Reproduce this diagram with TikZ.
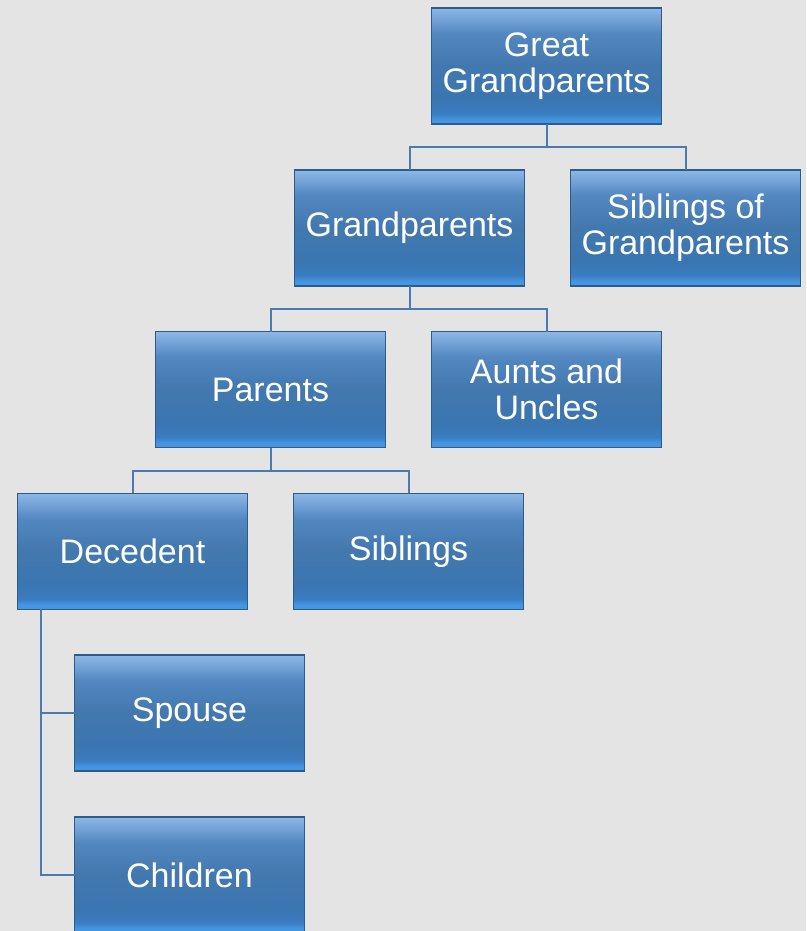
\documentclass[tikz,border=0pt]{standalone}
\usepackage{fontspec}
\setmainfont{Liberation Sans}
\usepackage{tikz}
\usetikzlibrary{positioning, calc}

\definecolor{bgGray}{HTML}{E4E4E4}
\definecolor{boxEdge}{HTML}{2B5C8A}
\definecolor{linkBlue}{HTML}{4A7AB0}
\definecolor{shA}{HTML}{4496E2}
\definecolor{shB}{HTML}{3A7DC2}
\definecolor{shC}{HTML}{3A76B2}
\definecolor{shD}{HTML}{4278AE}
\definecolor{shE}{HTML}{5287C0}
\definecolor{shF}{HTML}{78A6DA}
\definecolor{shG}{HTML}{8DB8E6}

\pgfdeclareverticalshading{boxshade}{100bp}{color(0bp)=(shA); color(25bp)=(shA); color(27bp)=(shA); color(29.5bp)=(shB); color(35bp)=(shC); color(50bp)=(shD); color(64bp)=(shE); color(71bp)=(shF); color(75bp)=(shG); color(100bp)=(shG)}

\begin{document}
\begin{tikzpicture}[x=1pt, y=1pt, node distance=45.8pt]
  \tikzstyle{person} = [rectangle, draw=boxEdge, line width=1.6pt, shading=boxshade,
    outer sep=0pt, minimum width=230pt, minimum height=116pt, align=center, text=white,
    font=\fontsize{34}{36}\selectfont]
  \tikzstyle{link} = [draw=linkBlue, line width=2pt]

  \fill[bgGray] (0,0) rectangle (806,-931);
  \useasboundingbox (0,0) rectangle (806,-931);

  \node[person] (ggp) at (546.5,-66) {Great\\Grandparents};
  \node[person] (gp) [below=of ggp.south west, xshift=-22pt] {Grandparents};
  \node[person] (sibgp) [right=46pt of gp] {Siblings of\\Grandparents};
  \node[person] (par) [below=of gp.south west, xshift=-24pt] {Parents};
  \node[person] (aunts) [right=46pt of par] {Aunts and\\Uncles};
  \node[person] (dec) [below=of par.south west, xshift=-23pt] {Decedent};
  \node[person] (sibs) [right=46pt of dec] {Siblings};
  \node[person] (spouse) [below=of dec, xshift=57pt] {Spouse};
  \node[person] (kids) [below=of spouse] {Children};

  \path[link]
    (ggp.south) -- ++(0,-23) -| (gp.north)
    (ggp.south) -- ++(0,-23) -| (sibgp.north)
    (gp.south) -- ++(0,-23) -| (par.north)
    (gp.south) -- ++(0,-23) -| (aunts.north)
    (par.south) -- ++(0,-23) -| (dec.north)
    (par.south) -- ++(0,-23) -| (sibs.north)
    ([xshift=23pt]dec.south west) |- (spouse.west)
    ([xshift=23pt]dec.south west) |- (kids.west);
\end{tikzpicture}
\end{document}
